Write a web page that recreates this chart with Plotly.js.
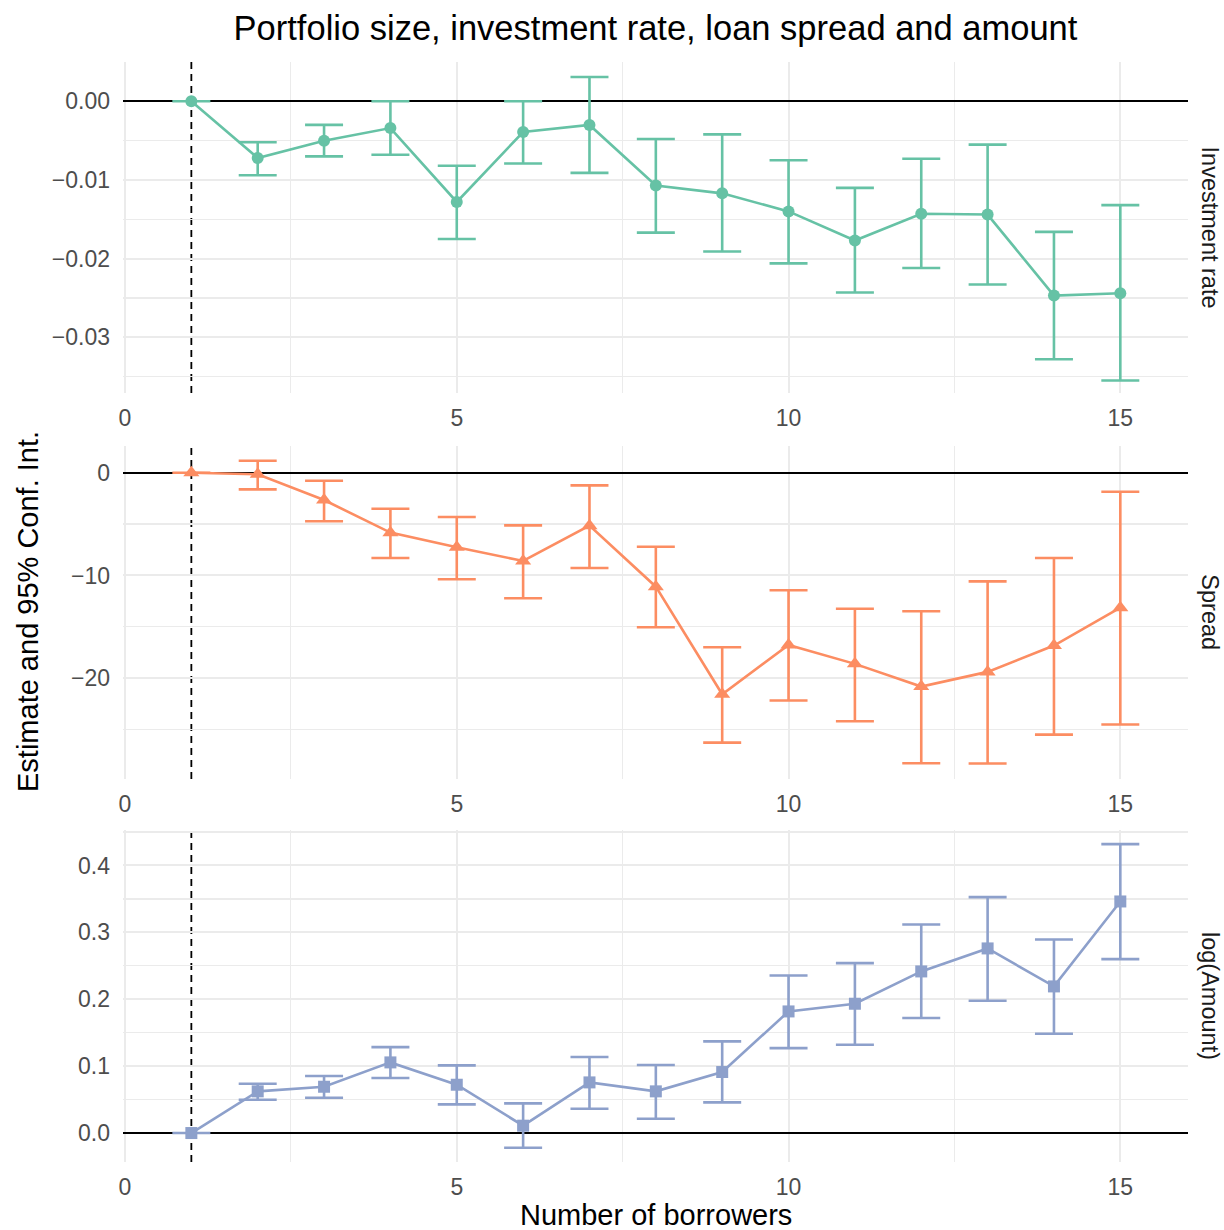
<!DOCTYPE html>
<html>
<head>
<meta charset="utf-8">
<script src="https://cdn.plot.ly/plotly-3.0.1.min.js"></script>
<style>html,body{margin:0;padding:0;background:#fff;}#chart{width:1224px;height:1230px;}</style>
</head>
<body>
<div id="chart"></div>
<script>
// ---- Data ----
const borrowers = [1,2,3,4,5,6,7,8,9,10,11,12,13,14,15];

const invEst   = [0, -0.0072, -0.0050, -0.0034, -0.0128, -0.0039, -0.0030, -0.0107, -0.0117, -0.0140, -0.0177, -0.0143, -0.0144, -0.0247, -0.0244];
const invLow   = [0, -0.0094, -0.0070, -0.0068, -0.0175, -0.0079, -0.0091, -0.0167, -0.0191, -0.0206, -0.0243, -0.0212, -0.0233, -0.0328, -0.0355];
const invHigh  = [0, -0.0052, -0.0030,  0.0000, -0.0082,  0.0000,  0.0031, -0.0048, -0.0042, -0.0075, -0.0110, -0.0073, -0.0055, -0.0166, -0.0132];

const sprEst   = [0, -0.16, -2.66, -5.83, -7.26, -8.59, -5.15, -11.09, -21.56, -16.76, -18.60, -20.81, -19.38, -16.82, -13.13];
const sprLow   = [0, -1.62, -4.73, -8.30, -10.37, -12.22, -9.27, -15.04, -26.26, -22.17, -24.18, -28.27, -28.30, -25.48, -24.50];
const sprHigh  = [0,  1.17, -0.78, -3.50, -4.31, -5.12, -1.23, -7.20, -16.99, -11.44, -13.23, -13.48, -10.57, -8.30, -1.85];

const amtEst   = [0, 0.0623, 0.0692, 0.1056, 0.0722, 0.0110, 0.0757, 0.0623, 0.0912, 0.1818, 0.1933, 0.2416, 0.2760, 0.2192, 0.3462];
const amtLow   = [0, 0.0498, 0.0528, 0.0822, 0.0428, -0.0219, 0.0364, 0.0214, 0.0458, 0.1270, 0.1320, 0.1719, 0.1978, 0.1484, 0.2600];
const amtHigh  = [0, 0.0737, 0.0852, 0.1285, 0.1011, 0.0443, 0.1136, 0.1016, 0.1370, 0.2356, 0.2540, 0.3118, 0.3527, 0.2894, 0.4319];

const panelNames = ["Investment rate", "Spread", "log(Amount)"];
const xTickVals = [0, 5, 10, 15];
const xTickText = ["0", "5", "10", "15"];
const invTickVals = [0, -0.01, -0.02, -0.03];
const invTickText = ["0.00", "\u22120.01", "\u22120.02", "\u22120.03"];
const sprTickVals = [0, -10, -20];
const sprTickText = ["0", "\u221210", "\u221220"];
const amtTickVals = [0, 0.1, 0.2, 0.3, 0.4];
const amtTickText = ["0.0", "0.1", "0.2", "0.3", "0.4"];
const refBorrowers = 1;

const titleText = "Portfolio size, investment rate, loan spread and amount";
const xTitle = "Number of borrowers";
const yTitle = "Estimate and 95% Conf. Int.";

// ---- Styles ----
const FONT = "Liberation Sans, Arial, Helvetica, sans-serif";
const colors = ["#66c2a5", "#fc8d62", "#8da0cb"];
const symbols = ["circle", "triangle-up", "square"];
const msizes = [12, 14, 12];

function mkTrace(est, lo, hi, i, ax) {
  return {
    type: "scatter", mode: "lines+markers",
    x: borrowers, y: est,
    xaxis: "x" + (ax === 1 ? "" : ax), yaxis: "y" + (ax === 1 ? "" : ax),
    line: {color: colors[i], width: 2.6},
    marker: {color: colors[i], symbol: symbols[i], size: msizes[i]},
    error_y: {
      type: "data", symmetric: false,
      array: hi.map((h, k) => h - est[k]),
      arrayminus: lo.map((l, k) => est[k] - l),
      color: colors[i], thickness: 2.6, width: 19
    },
    hoverinfo: "x+y", showlegend: false
  };
}

const traces = [
  mkTrace(invEst, invLow, invHigh, 0, 1),
  mkTrace(sprEst, sprLow, sprHigh, 1, 2),
  mkTrace(amtEst, amtLow, amtHigh, 2, 3)
];

const tickFont = {family: FONT, size: 23, color: "#4d4d4d"};

function xAxis(anchor) {
  return {
    anchor: anchor, range: [-0.03, 16.02],
    tickvals: xTickVals, ticktext: xTickText,
    showgrid: true, gridcolor: "#ebebeb", gridwidth: 2,
    minor: {dtick: 2.5, tick0: 0, showgrid: true, gridcolor: "#ebebeb", gridwidth: 1.2, ticks: ""},
    zeroline: false, showline: false, ticks: "",
    tickfont: tickFont, ticklabelstandoff: 9
  };
}
function yAxis(anchor, domain, range, tv, tt, mdt) {
  return {
    anchor: anchor, domain: domain, range: range,
    tickvals: tv, ticktext: tt,
    showgrid: true, gridcolor: "#ebebeb", gridwidth: 2,
    minor: {dtick: mdt, tick0: 0, showgrid: true, gridcolor: "#ebebeb", gridwidth: 1.2, ticks: ""},
    zeroline: true, zerolinecolor: "#000000", zerolinewidth: 1.8,
    showline: false, ticks: "",
    tickfont: tickFont, ticklabelstandoff: 12
  };
}

const domains = [[0.699, 1.0], [0.3482, 0.6512], [0, 0.3018]];

const shapes = [1, 2, 3].map(k => ({
  type: "line", xref: "x" + (k === 1 ? "" : k), yref: "y" + (k === 1 ? "" : k) + " domain",
  x0: refBorrowers, x1: refBorrowers, y0: 0, y1: 1,
  line: {color: "#000000", width: 1.8, dash: "7px,5px"}, layer: "below"
}));

const annotations = panelNames.map((n, i) => ({
  text: n, xref: "paper", yref: "paper",
  x: 1, y: (domains[i][0] + domains[i][1]) / 2,
  xanchor: "center", yanchor: "middle", xshift: 22,
  textangle: 90, showarrow: false,
  font: {family: FONT, size: 23.5, color: "#1a1a1a"}
}));
annotations.push({
  text: yTitle, xref: "paper", yref: "paper",
  x: 0, y: 0.5, xshift: -95, xanchor: "center", yanchor: "middle",
  textangle: -90, showarrow: false,
  font: {family: FONT, size: 29, color: "#000000"}
});
annotations.push({
  text: xTitle, xref: "paper", yref: "paper",
  x: 0.5, y: 0, yshift: -53, xanchor: "center", yanchor: "middle",
  showarrow: false,
  font: {family: FONT, size: 29, color: "#000000"}
});

const layout = {
  width: 1224, height: 1230,
  margin: {l: 123, r: 36, t: 62, b: 68},
  paper_bgcolor: "#ffffff", plot_bgcolor: "#ffffff",
  font: {family: FONT},
  title: {text: titleText, xref: "paper", x: 0.5, xanchor: "center",
          yref: "container", y: 1 - 28 / 1230, yanchor: "middle",
          font: {family: FONT, size: 34.5, color: "#000000"}},
  xaxis: xAxis("y"), xaxis2: xAxis("y2"), xaxis3: xAxis("y3"),
  yaxis: yAxis("x", domains[0], [-0.0371, 0.0050], invTickVals, invTickText, 0.005),
  yaxis2: yAxis("x2", domains[1], [-29.8, 2.63], sprTickVals, sprTickText, 5),
  yaxis3: yAxis("x3", domains[2], [-0.0433, 0.453], amtTickVals, amtTickText, 0.05),
  shapes: shapes, annotations: annotations, showlegend: false
};

Plotly.newPlot("chart", traces, layout, {displayModeBar: false, staticPlot: true});
</script>
</body>
</html>
